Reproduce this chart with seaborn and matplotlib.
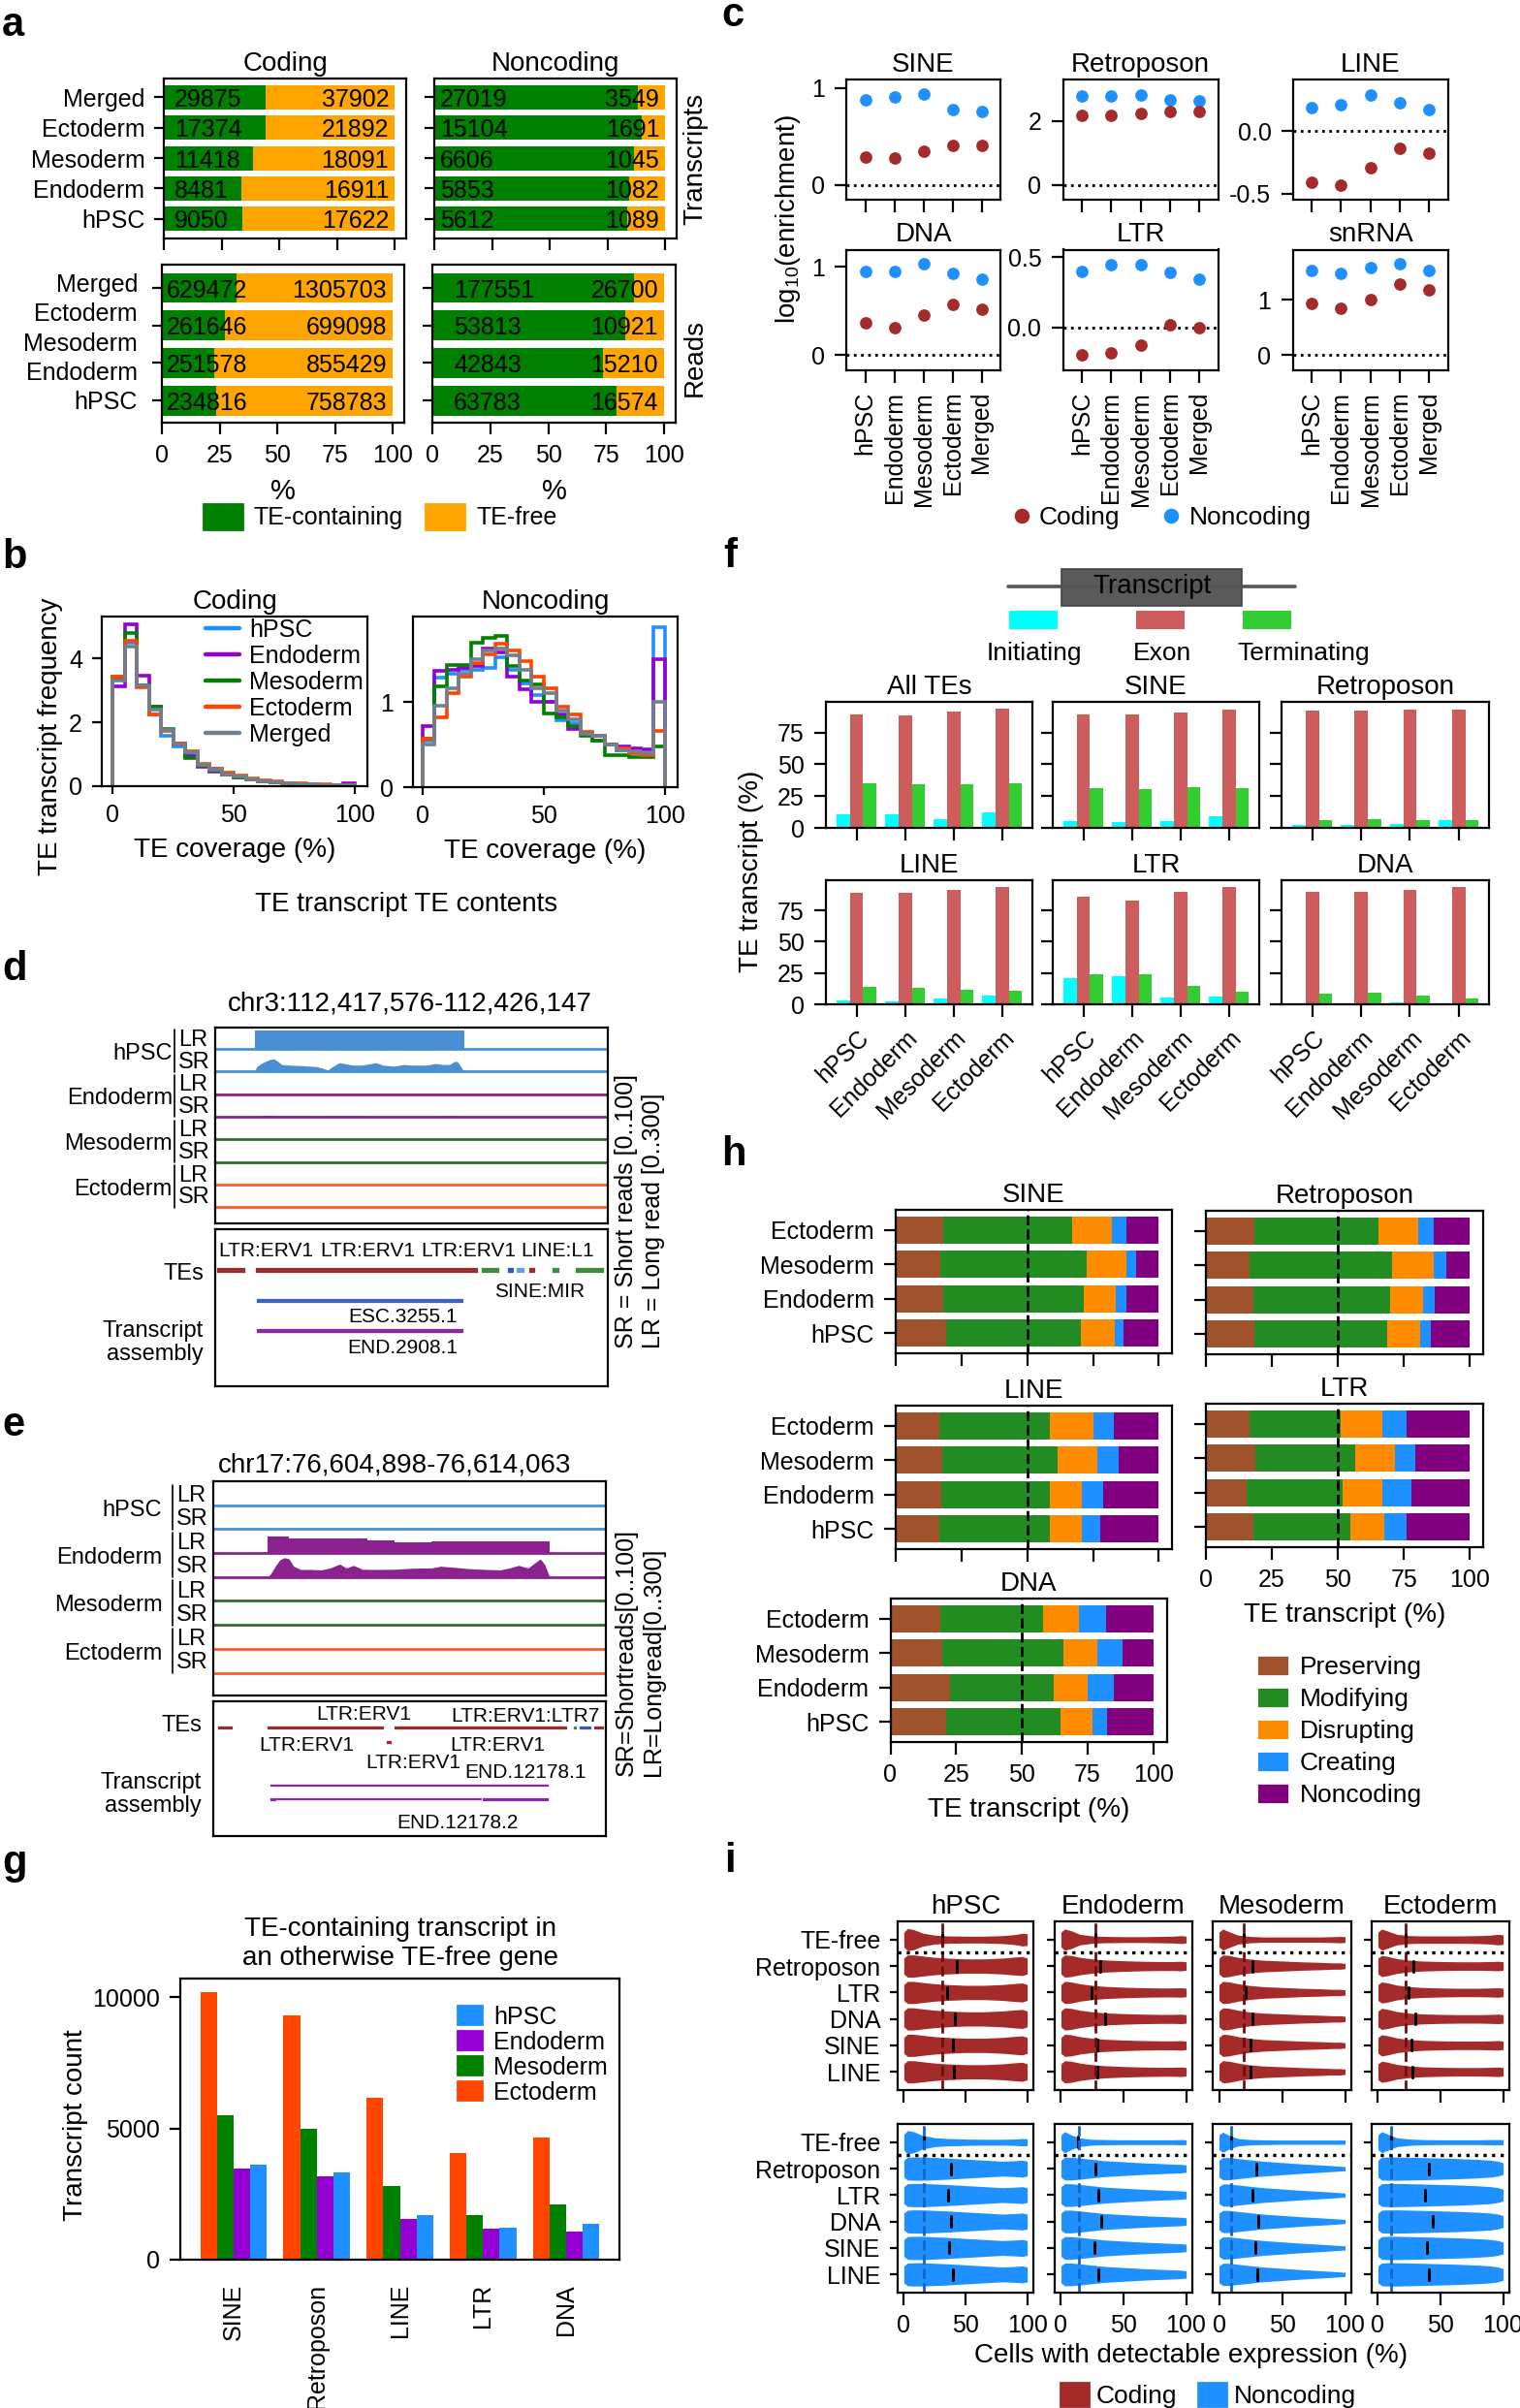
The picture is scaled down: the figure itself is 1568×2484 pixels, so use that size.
import matplotlib
matplotlib.use("Agg")
import matplotlib.pyplot as plt
from matplotlib import font_manager
from matplotlib.patches import Patch, Rectangle
from matplotlib.lines import Line2D
from matplotlib.transforms import blended_transform_factory
import numpy as np
import pandas as pd
import seaborn as sns

# ---------------- a: TE-containing vs TE-free counts ----------------
a_stages = ["Merged", "Ectoderm", "Mesoderm", "Endoderm", "hPSC"]
a_read_bars = ["Merged", "Ectoderm", "Mesoderm", "hPSC"]
coding_tx_te = [29875, 17374, 11418, 8481, 9050]
coding_tx_free = [37902, 21892, 18091, 16911, 17622]
noncoding_tx_te = [27019, 15104, 6606, 5853, 5612]
noncoding_tx_free = [3549, 1691, 1045, 1082, 1089]
coding_rd_te = [629472, 261646, 251578, 234816]
coding_rd_free = [1305703, 699098, 855429, 758783]
noncoding_rd_te = [177551, 53813, 42843, 63783]
noncoding_rd_free = [26700, 10921, 15210, 16574]

# ---------------- b: TE coverage histograms (5% bins) ----------------
bin_edges = list(range(0, 101, 5))
b_coding_hpsc = [3.45, 4.5, 3.15, 2.26, 1.57, 1.25, 1.0, 0.64, 0.54, 0.38, 0.3, 0.22, 0.16, 0.12, 0.09, 0.07, 0.05, 0.04, 0.03, 0.04]
b_coding_endo = [3.12, 5.07, 3.47, 2.49, 1.75, 1.3, 0.95, 0.6, 0.45, 0.35, 0.27, 0.2, 0.15, 0.11, 0.08, 0.06, 0.05, 0.04, 0.04, 0.08]
b_coding_meso = [3.35, 4.79, 3.17, 2.49, 1.8, 1.35, 0.89, 0.64, 0.5, 0.36, 0.28, 0.2, 0.15, 0.11, 0.08, 0.06, 0.05, 0.04, 0.03, 0.03]
b_coding_ecto = [3.45, 4.55, 3.1, 2.26, 1.72, 1.35, 1.09, 0.7, 0.55, 0.42, 0.33, 0.25, 0.19, 0.14, 0.1, 0.08, 0.06, 0.05, 0.04, 0.04]
b_coding_merged = [3.3, 4.38, 3.17, 2.4, 1.75, 1.32, 1.05, 0.66, 0.52, 0.38, 0.3, 0.22, 0.16, 0.12, 0.09, 0.07, 0.05, 0.04, 0.03, 0.04]
b_nonc_hpsc = [0.55, 1.28, 1.33, 1.38, 1.38, 1.4, 1.52, 1.37, 1.22, 1.08, 1.0, 0.78, 0.75, 0.62, 0.55, 0.5, 0.43, 0.42, 0.4, 1.88]
b_nonc_endo = [0.72, 1.36, 1.38, 1.4, 1.42, 1.63, 1.58, 1.3, 1.15, 1.0, 1.0, 0.85, 0.68, 0.62, 0.6, 0.5, 0.48, 0.45, 0.44, 1.5]
b_nonc_meso = [0.57, 1.18, 1.43, 1.43, 1.69, 1.75, 1.77, 1.42, 1.25, 1.2, 0.86, 0.82, 0.72, 0.6, 0.55, 0.37, 0.37, 0.35, 0.35, 0.48]
b_nonc_ecto = [0.57, 0.82, 1.1, 1.3, 1.45, 1.56, 1.68, 1.6, 1.48, 1.3, 1.16, 0.94, 0.85, 0.65, 0.6, 0.5, 0.45, 0.4, 0.38, 0.66]
b_nonc_merged = [0.5, 0.96, 1.16, 1.33, 1.5, 1.6, 1.62, 1.55, 1.37, 1.16, 1.1, 0.9, 0.8, 0.62, 0.6, 0.5, 0.43, 0.42, 0.4, 1.0]

# ---------------- c: log10 enrichment ----------------
c_stages = ["hPSC", "Endoderm", "Mesoderm", "Ectoderm", "Merged"]
sine_coding = [0.29, 0.28, 0.35, 0.41, 0.41]
sine_noncoding = [0.88, 0.91, 0.94, 0.78, 0.76]
retro_coding = [2.16, 2.16, 2.23, 2.30, 2.30]
retro_noncoding = [2.77, 2.79, 2.82, 2.66, 2.64]
line_coding = [-0.41, -0.43, -0.29, -0.14, -0.18]
line_noncoding = [0.19, 0.21, 0.29, 0.23, 0.17]
dna_coding = [0.36, 0.31, 0.45, 0.57, 0.52]
dna_noncoding = [0.95, 0.95, 1.03, 0.93, 0.86]
ltr_coding = [-0.20, -0.18, -0.13, 0.02, 0.00]
ltr_noncoding = [0.40, 0.45, 0.45, 0.39, 0.34]
snrna_coding = [0.94, 0.85, 1.00, 1.28, 1.19]
snrna_noncoding = [1.53, 1.48, 1.59, 1.65, 1.54]

# ---------------- d / e: browser tracks (bp offset in window) ----------------
track_names = ["hPSC", "Endoderm", "Mesoderm", "Ectoderm"]
d_len = 8571
d_lr_hpsc_edges = [862, 5434]
d_lr_hpsc_vals = [273]
d_sr_hpsc_pos = [862, 902, 1003, 1103, 1203, 1283, 1363, 1454, 1604, 1905, 2206, 2356, 2456, 2556, 2707, 2857,
                 3008, 3208, 3358, 3509, 3659, 3910, 4110, 4311, 4612, 4812, 4962, 5113, 5233, 5293, 5363, 5434]
d_sr_hpsc_vals = [0, 24, 40, 51, 60, 63, 51, 35, 32, 29, 25, 16, 8, 24, 44, 38,
                  32, 32, 38, 44, 32, 27, 35, 32, 32, 40, 35, 35, 51, 48, 24, 0]
d_sr_endo_pos = [862, 1053, 1203, 1353, 2306, 2707, 3409, 4010, 4812, 5313, 5414]
d_sr_endo_vals = [0, 6, 8, 4, 3, 4, 3, 3, 3, 4, 0]
d_te_start = [0, 842, 5784, 6346, 6547, 6817, 7318, 7840]
d_te_end = [672, 5764, 6216, 6547, 6767, 6997, 7539, 8501]
d_te_class = ["LTR", "LTR", "LINE", "SINE", "SINE2", "LTR", "LINE", "LINE"]
d_tx_start, d_tx_end = 862, 5434

e_len = 9165
e_lr_endo_edges = [1265, 1769, 3591, 4234, 5092, 7858]
e_lr_endo_vals = [230, 197, 177, 153, 163]
e_sr_endo_pos = [1265, 1340, 1447, 1554, 1662, 1769, 1876, 2037, 2305, 2519, 2734, 2948, 3109, 3270, 3484, 3806,
                 4234, 4663, 5092, 5306, 5628, 5950, 6378, 6700, 6914, 7129, 7343, 7504, 7633, 7740, 7826, 7858]
e_sr_endo_vals = [0, 15, 50, 80, 90, 84, 50, 35, 35, 33, 42, 60, 42, 54, 36, 35,
                  36, 41, 42, 50, 45, 39, 35, 33, 42, 54, 42, 65, 84, 57, 12, 0]
e_te_start = [75, 1233, 4181, 8362, 8501, 8844]
e_te_end = [482, 3999, 8287, 8501, 8844, 9144]
e_te_class = ["LTR", "LTR", "LTR", "LINE", "SINE", "LTR"]
e_tx1 = (1286, 7847)
e_tx2_exons = [(1286, 1501), (6250, 7847)]

# ---------------- f: TE position in transcript ----------------
f_stages = ["hPSC", "Endoderm", "Mesoderm", "Ectoderm"]
f_parts = ["Initiating", "Exon", "Terminating"]
f_all = ([10.9, 10.6, 6.9, 12.3], [89.0, 88.5, 91.6, 93.6], [35.2, 34.0, 34.6, 35.2])
f_sine = ([5.2, 4.9, 5.2, 8.9], [89.3, 89.3, 90.8, 93.1], [30.9, 30.1, 31.8, 30.9])
f_retro = ([2.6, 2.6, 3.2, 6.0], [92.5, 91.9, 92.8, 93.1], [6.0, 6.9, 6.0, 6.0])
f_line = ([3.4, 2.3, 4.3, 6.8], [89.2, 89.2, 91.5, 93.2], [13.7, 13.1, 11.4, 10.8])
f_ltr = ([20.8, 22.5, 5.7, 6.0], [85.8, 82.7, 89.8, 93.5], [23.7, 23.7, 14.8, 10.3])
f_dna = ([0.9, 0.3, 1.4, 1.1], [89.8, 89.8, 91.5, 93.5], [8.8, 9.1, 7.1, 4.8])

# ---------------- g: TE-containing transcripts in TE-free genes ----------------
g_families = ["SINE", "Retroposon", "LINE", "LTR", "DNA"]
g_ectoderm = [10210, 9330, 6190, 4060, 4670]
g_mesoderm = [5490, 5000, 2810, 1690, 2110]
g_endoderm = [3470, 3190, 1570, 1190, 1080]
g_hpsc = [3610, 3310, 1690, 1210, 1350]

# ---------------- h: impact classes (rows Ectoderm..hPSC) ----------------
h_stages = ["Ectoderm", "Mesoderm", "Endoderm", "hPSC"]
h_classes = ["Preserving", "Modifying", "Disrupting", "Creating", "Noncoding"]
h_sine = [[17.9, 49.3, 15.1, 5.3, 12.4], [16.9, 55.5, 15.2, 3.9, 8.5],
          [18.1, 53.2, 12.2, 4.3, 12.2], [19.0, 51.5, 12.6, 3.5, 13.4]]
h_retro = [[18.3, 46.9, 15.2, 5.8, 13.8], [16.5, 54.1, 15.8, 4.5, 9.1],
           [18.1, 51.7, 12.5, 4.3, 13.4], [18.5, 50.0, 12.8, 3.9, 14.8]]
h_line = [[16.5, 42.1, 16.4, 7.9, 17.1], [17.7, 43.7, 15.3, 8.0, 15.3],
          [17.3, 41.1, 12.5, 7.9, 21.2], [16.5, 41.9, 12.5, 6.8, 22.3]]
h_ltr = [[16.7, 34.5, 15.5, 9.2, 24.1], [18.7, 37.9, 15.0, 7.8, 20.6],
         [15.4, 36.5, 14.8, 11.1, 22.2], [17.9, 36.8, 12.8, 8.4, 24.1]]
h_dna = [[18.9, 39.3, 13.6, 10.1, 18.1], [19.8, 46.0, 12.8, 9.7, 11.7],
         [22.6, 39.3, 13.0, 9.9, 15.2], [21.0, 43.8, 12.0, 5.7, 17.5]]

# ---------------- i: violin outlines (half widths read at i_grid) ----------------
i_rows = ["TE-free", "Retroposon", "LTR", "DNA", "SINE", "LINE"]
i_grid = [0, 3, 8, 15, 25, 35, 50, 65, 80, 90, 96, 100]
i_cod_free_hpsc = [0.28, 0.42, 0.38, 0.25, 0.17, 0.14, 0.13, 0.13, 0.15, 0.19, 0.24, 0.22]
i_cod_te_hpsc = [0.30, 0.42, 0.42, 0.38, 0.33, 0.30, 0.27, 0.27, 0.30, 0.34, 0.36, 0.30]
i_cod_free_endo = [0.28, 0.40, 0.34, 0.20, 0.14, 0.12, 0.11, 0.11, 0.12, 0.13, 0.15, 0.13]
i_cod_te_endo = [0.30, 0.42, 0.40, 0.33, 0.27, 0.23, 0.20, 0.18, 0.17, 0.17, 0.18, 0.16]
i_cod_free_meso = [0.28, 0.40, 0.30, 0.17, 0.12, 0.10, 0.10, 0.10, 0.10, 0.11, 0.12, 0.11]
i_cod_te_meso = [0.30, 0.42, 0.40, 0.33, 0.26, 0.22, 0.19, 0.16, 0.14, 0.12, 0.12, 0.10]
i_cod_free_ecto = [0.28, 0.40, 0.32, 0.20, 0.15, 0.14, 0.14, 0.14, 0.15, 0.17, 0.20, 0.18]
i_cod_te_ecto = [0.30, 0.40, 0.36, 0.28, 0.22, 0.19, 0.17, 0.16, 0.16, 0.17, 0.18, 0.16]
i_nc_free_hpsc = [0.30, 0.44, 0.40, 0.26, 0.17, 0.14, 0.12, 0.11, 0.11, 0.12, 0.14, 0.13]
i_nc_te_hpsc = [0.32, 0.43, 0.44, 0.44, 0.42, 0.40, 0.36, 0.32, 0.28, 0.30, 0.32, 0.28]
i_nc_free_endo = [0.28, 0.40, 0.28, 0.16, 0.11, 0.10, 0.09, 0.09, 0.09, 0.09, 0.10, 0.09]
i_nc_te_endo = [0.32, 0.43, 0.43, 0.40, 0.35, 0.30, 0.26, 0.22, 0.19, 0.17, 0.16, 0.14]
i_nc_free_meso = [0.28, 0.38, 0.26, 0.14, 0.10, 0.09, 0.08, 0.08, 0.08, 0.08, 0.08, 0.08]
i_nc_te_meso = [0.32, 0.42, 0.42, 0.38, 0.33, 0.28, 0.23, 0.18, 0.14, 0.11, 0.09, 0.08]
i_nc_free_ecto = [0.28, 0.40, 0.30, 0.17, 0.12, 0.10, 0.09, 0.09, 0.09, 0.10, 0.10, 0.10]
i_nc_te_ecto = [0.32, 0.43, 0.44, 0.44, 0.43, 0.42, 0.40, 0.38, 0.35, 0.32, 0.28, 0.22]
i_cod_median_hpsc = [31, 42.6, 35, 41.7, 39.7, 40.5]
i_cod_median_endo = [27.6, 31.7, 24.4, 35, 29.3, 29.3]
i_cod_median_meso = [19.5, 26.4, 21.5, 26.8, 25.2, 25.2]
i_cod_median_ecto = [22, 28, 24.4, 30, 26.4, 27.6]
i_nc_median_hpsc = [16.5, 38.4, 36, 38.4, 36.4, 40]
i_nc_median_endo = [13.4, 27.6, 30, 32, 26.8, 30]
i_nc_median_meso = [9.3, 29.3, 26.4, 30.9, 28.5, 30.1]
i_nc_median_ecto = [10.2, 40.7, 37.8, 43.5, 39, 40.7]
i_cod_threshold = [31, 27.6, 19.5, 22]
i_nc_threshold = [16.5, 14.2, 9.3, 10.2]

# ---------------- style ----------------
W, H, DPI = 1568, 2484, 200
sns.set_theme(style="ticks")
installed = {f.name for f in font_manager.fontManager.ttflist}
FONT = "Liberation Sans" if "Liberation Sans" in installed else "DejaVu Sans"
plt.rcParams.update({
    "font.family": [FONT, "DejaVu Sans"],
    "font.size": 9,
    "text.color": "black", "axes.labelcolor": "black",
    "axes.edgecolor": "black", "axes.linewidth": 0.8,
    "xtick.color": "black", "ytick.color": "black",
    "xtick.major.size": 4.3, "ytick.major.size": 4,
    "xtick.major.width": 0.8, "ytick.major.width": 0.8,
    "xtick.labelsize": 9, "ytick.labelsize": 9,
    "axes.titlesize": 10, "axes.titlepad": 3,
    "legend.fontsize": 9,
    "mathtext.fontset": "custom", "mathtext.rm": FONT, "mathtext.default": "regular",
})

fig = plt.figure(figsize=(W / DPI, H / DPI), dpi=DPI)


def px_axes(x0, y0, x1, y1):
    return fig.add_axes([x0 / W, 1 - y1 / H, (x1 - x0) / W, (y1 - y0) / H])


def px_text(x, y, s, **kw):
    kw.setdefault("ha", "center")
    kw.setdefault("va", "center")
    return fig.text(x / W, 1 - y / H, s, **kw)


def panel_letter(x, y, s):
    fig.text(x / W, 1 - y / H, s, fontsize=15, fontweight="bold", ha="left", va="baseline")


# ================= a =================
GREEN_A, ORANGE_A = "#008000", "#FFA500"


def share_bars(ax, labels, te, free, num_x, top_pad, bottom_pad):
    te = np.asarray(te, float)
    free = np.asarray(free, float)
    df = pd.DataFrame({"stage": labels, "total": 100.0, "te": te / (te + free) * 100})
    sns.barplot(data=df, x="total", y="stage", orient="h", color=ORANGE_A, saturation=1,
                width=0.8, errorbar=None, linewidth=0, ax=ax)
    sns.barplot(data=df, x="te", y="stage", orient="h", color=GREEN_A, saturation=1,
                width=0.8, errorbar=None, linewidth=0, ax=ax)
    for i in range(len(labels)):
        ax.text(num_x, i, f"{te[i]:.0f}", ha="left", va="center_baseline", fontsize=9)
        ax.text(97.5, i, f"{free[i]:.0f}", ha="right", va="center_baseline", fontsize=9)
    ax.set_xlim(0, 105)
    ax.set_ylim(len(labels) - 1 + bottom_pad, -top_pad)
    ax.set_xticks([0, 25, 50, 75, 100])
    ax.set_xlabel("")
    ax.set_ylabel("")
    ax.tick_params(axis="y", length=3.6)


ax = px_axes(169, 81, 419, 246)
share_bars(ax, a_stages, coding_tx_te, coding_tx_free, 4.5, 0.62, 0.65)
ax.tick_params(labelbottom=False)
ax.set_title("Coding", pad=3)
ax = px_axes(448, 81, 698, 246)
share_bars(ax, a_stages, noncoding_tx_te, noncoding_tx_free, 2.4, 0.62, 0.65)
ax.tick_params(labelbottom=False, labelleft=False)
ax.set_title("Noncoding", pad=3)
ax = px_axes(167, 273, 417, 436)
share_bars(ax, a_read_bars, coding_rd_te, coding_rd_free, 1.8, 0.62, 0.59)
ax.set_xlabel("%", fontsize=10.5)
ax.tick_params(labelleft=False)
# the read panel carries five stage names spread over its four bars
tr_a = blended_transform_factory(ax.transAxes, ax.transData)
for lab, yy in zip(a_stages, np.linspace(-0.08, 3.05, len(a_stages))):
    ax.text(-0.1, yy, lab, transform=tr_a, ha="right", va="center", fontsize=9)
ax = px_axes(446, 273, 697, 436)
share_bars(ax, a_read_bars, noncoding_rd_te, noncoding_rd_free, 9.3, 0.62, 0.59)
ax.tick_params(labelleft=False)
ax.set_xlabel("%", fontsize=10.5)
px_text(717, 164, "Transcripts", rotation=90, fontsize=10)
px_text(717, 369, "Reads", rotation=90, fontsize=10)
fig.legend([Patch(color=GREEN_A), Patch(color=ORANGE_A)], ["TE-containing", "TE-free"],
           ncol=2, loc="center", bbox_to_anchor=(392 / W, 1 - 533 / H), frameon=False,
           handlelength=1.6, handleheight=1.2, handletextpad=0.5, columnspacing=0.9, fontsize=9)
panel_letter(2, 37, "a")

# ================= b =================
b_colors = {"hPSC": "#1E90FF", "Endoderm": "#9400D3", "Mesoderm": "#008000",
            "Ectoderm": "#FF4500", "Merged": "#708090"}


def coverage_hist(ax, series, ymax, yticks, xmin):
    for name, vals in series:
        ax.stairs(vals, bin_edges, baseline=0, color=b_colors[name], lw=1.3)
    ax.set_xlim(xmin, 105)
    ax.set_ylim(0, ymax)
    ax.set_xticks([0, 50, 100])
    ax.set_yticks(yticks)
    ax.tick_params(axis="x", length=3)
    ax.tick_params(axis="y", length=3.7)
    ax.set_xlabel("TE coverage (%)", fontsize=10)


ax = px_axes(105, 636, 379, 811)
coverage_hist(ax, [("hPSC", b_coding_hpsc), ("Endoderm", b_coding_endo), ("Mesoderm", b_coding_meso),
                   ("Ectoderm", b_coding_ecto), ("Merged", b_coding_merged)], 5.32, [0, 2, 4], -4.4)
ax.set_title("Coding", pad=3)
ax.legend([Line2D([], [], color=c, lw=1.6) for c in b_colors.values()], list(b_colors.keys()),
          loc="upper left", bbox_to_anchor=(0.39, 0.99), frameon=False, handlelength=1.4,
          handletextpad=0.4, labelspacing=0.12, borderaxespad=0, borderpad=0, fontsize=9)
ax = px_axes(426, 636, 699, 812)
coverage_hist(ax, [("hPSC", b_nonc_hpsc), ("Endoderm", b_nonc_endo), ("Mesoderm", b_nonc_meso),
                   ("Ectoderm", b_nonc_ecto), ("Merged", b_nonc_merged)], 2.0, [0, 1], -3.8)
ax.set_title("Noncoding", pad=3)
px_text(52, 760, "TE transcript frequency", rotation=90, fontsize=10)
px_text(419, 933, "TE transcript TE contents", fontsize=10)
panel_letter(2, 586, "b")

# ================= c =================
C_RED, C_BLUE = "#A52A2A", "#1E90FF"
c_panels = [
    ("SINE", sine_coding, sine_noncoding, (-0.152, 1.09), [0, 1], ["0", "1"], (873, 82, 1032, 206)),
    ("Retroposon", retro_coding, retro_noncoding, (-0.457, 3.29), [0, 2], ["0", "2"], (1096.5, 82, 1256.7, 206)),
    ("LINE", line_coding, line_noncoding, (-0.549, 0.413), [-0.5, 0.0], ["-0.5", "0.0"], (1333.6, 82, 1493.7, 206)),
    ("DNA", dna_coding, dna_noncoding, (-0.17, 1.194), [0, 1], ["0", "1"], (873, 257.5, 1032, 381.6)),
    ("LTR", ltr_coding, ltr_noncoding, (-0.305, 0.554), [0.0, 0.5], ["0.0", "0.5"], (1096.5, 257.5, 1256.7, 381.6)),
    ("snRNA", snrna_coding, snrna_noncoding, (-0.273, 1.913), [0, 1], ["0", "1"], (1333.6, 257.5, 1493.7, 381.6)),
]
for k, (name, cod, nonc, ylim, yt, ytl, box) in enumerate(c_panels):
    ax = px_axes(*box)
    ax.axhline(0, color="black", ls=":", lw=1, zorder=0)
    sns.stripplot(x=c_stages, y=nonc, color=C_BLUE, jitter=False, size=4.6, linewidth=0, ax=ax)
    sns.stripplot(x=c_stages, y=cod, color=C_RED, jitter=False, size=4.6, linewidth=0, ax=ax)
    ax.set_xlim(-0.65, 4.65)
    ax.set_ylim(*ylim)
    ax.set_yticks(yt)
    ax.set_yticklabels(ytl)
    ax.set_title(name, pad=3)
    ax.tick_params(length=4.5)
    if k < 3:
        ax.tick_params(labelbottom=False)
    else:
        ax.tick_params(axis="x", labelrotation=90)
px_text(813, 226, r"log$_{10}$(enrichment)", rotation=90, fontsize=10)
fig.legend([Line2D([], [], marker="o", ls="", color=C_RED, ms=4.6),
            Line2D([], [], marker="o", ls="", color=C_BLUE, ms=4.6)], ["Coding", "Noncoding"],
           ncol=2, loc="center", bbox_to_anchor=(1198 / W, 1 - 534 / H), frameon=False,
           handlelength=0.8, handletextpad=0.3, columnspacing=1.6, fontsize=9.5)
panel_letter(744, 27, "c")

# ================= d / e =================
track_colors = ["#4A8FD6", "#8B2290", "#2F6B2F", "#FF5A2A"]
te_colors = {"LTR": "#9E2A2B", "LINE": "#3C8D3C", "SINE": "#3A53C5", "SINE2": "#5BA4E6"}


def browser_tracks(box, length, first_base, bottom, lr, sr, group_x, bar_x):
    ax = px_axes(*box)
    ax.set_xlim(0, length)
    ax.set_ylim(bottom, 0)
    ax.set_xticks([])
    ax.set_yticks([])
    for k, col in enumerate(track_colors):
        for j in range(2):
            ax.axhline(first_base + 2 * k + j, color=col, lw=1.0)
    for k, (edges, vals) in lr.items():
        base = first_base + 2 * k
        ax.stairs(base - np.asarray(vals) / 300 * 0.9, edges, baseline=base, fill=True,
                  color=track_colors[k], lw=0)
    for k, (pos, vals) in sr.items():
        base = first_base + 2 * k + 1
        ax.fill_between(pos, base, base - np.asarray(vals) / 100 * 0.9, color=track_colors[k], lw=0)
    tr = blended_transform_factory(ax.transAxes, ax.transData)
    for k, name in enumerate(track_names):
        lr_base = first_base + 2 * k
        sr_base = lr_base + 1
        ax.text(group_x, lr_base + 0.2, name, transform=tr, ha="right", va="center", fontsize=8.5)
        ax.text(bar_x + 0.01, lr_base - 0.4, "LR", transform=tr, ha="left", va="center", fontsize=8.5)
        ax.text(bar_x + 0.01, sr_base - 0.42, "SR", transform=tr, ha="left", va="center", fontsize=8.5)
        ax.plot([bar_x, bar_x], [lr_base - 0.85, sr_base + 0.02], transform=tr, clip_on=False,
                color="black", lw=0.6)
    return ax


def te_track(ax, starts, ends, classes, y, h):
    for s, e, c in zip(starts, ends, classes):
        ax.broken_barh([(s, e - s)], (y - h / 2, h), facecolors=te_colors[c])


# d
browser_tracks((222, 1060, 627, 1262), d_len, 0.95, 8.67,
               {0: (d_lr_hpsc_edges, d_lr_hpsc_vals)},
               {0: (d_sr_hpsc_pos, d_sr_hpsc_vals), 1: (d_sr_endo_pos, d_sr_endo_vals)},
               -0.109, -0.104)
ax = px_axes(222, 1268, 627, 1430)
ax.set_xlim(0, d_len)
ax.set_ylim(162, 0)
ax.set_xticks([])
ax.set_yticks([])
te_track(ax, d_te_start, d_te_end, d_te_class, 42, 8)
for lab, x0 in [("LTR:ERV1", 63), ("LTR:ERV1", 2285), ("LTR:ERV1", 4486), ("LINE:L1", 6666)]:
    ax.text(x0, 22, lab, ha="left", va="center", fontsize=7.5)
ax.text(6094, 64, "SINE:MIR", ha="left", va="center", fontsize=7.5)
ax.broken_barh([(d_tx_start, d_tx_end - d_tx_start)], (69.5, 7.5), facecolors="#3B63C6")
ax.text(5290, 90, "ESC.3255.1", ha="right", va="center", fontsize=7.5)
ax.broken_barh([(d_tx_start, d_tx_end - d_tx_start)], (100.5, 7.5), facecolors="#8E24AA")
ax.text(5290, 122, "END.2908.1", ha="right", va="center", fontsize=7.5)
px_text(422.6, 1035, "chr3:112,417,576-112,426,147", fontsize=10)
px_text(210, 1314, "TEs", ha="right", fontsize=8.5)
px_text(210, 1385, "Transcript\nassembly", ha="right", fontsize=8.5, linespacing=1.1)
px_text(646, 1391, "SR = Short reads [0..100]", rotation=90, va="bottom", fontsize=9)
px_text(674, 1391, "LR = Long read [0..300]", rotation=90, va="bottom", fontsize=9)
panel_letter(2, 1011, "d")

# e
browser_tracks((220, 1528, 625, 1749), e_len, 1.0, 8.95,
               {1: (e_lr_endo_edges, e_lr_endo_vals)},
               {1: (e_sr_endo_pos, e_sr_endo_vals)},
               -0.13, -0.104)
ax = px_axes(220, 1755, 625, 1894)
ax.set_xlim(0, e_len)
ax.set_ylim(139, 0)
ax.set_xticks([])
ax.set_yticks([])
te_track(ax, e_te_start, e_te_end, e_te_class, 27, 6)
ax.broken_barh([(3999, 182)], (39, 6), facecolors=te_colors["LTR"])
for lab, x0, y0 in [("LTR:ERV1", 2399, 14), ("LTR:ERV1:LTR7", 5544, 15), ("LTR:ERV1", 1064, 45),
                    ("LTR:ERV1", 5522, 45), ("LTR:ERV1", 3553, 63), ("END.12178.1", 5861, 73),
                    ("END.12178.2", 4277, 126)]:
    ax.text(x0, y0, lab, ha="left", va="center", fontsize=7.5)
ax.broken_barh([(e_tx1[0], e_tx1[1] - e_tx1[0])], (83.5, 5.5), facecolors="#8E24AA")
ax.plot([e_tx2_exons[0][1], e_tx2_exons[1][0]], [101, 101], color="#8E24AA", lw=0.8)
ax.broken_barh([(s, e - s) for s, e in e_tx2_exons], (98.2, 5.6), facecolors="#8E24AA")
px_text(407, 1511, "chr17:76,604,898-76,614,063", fontsize=10)
px_text(208, 1780, "TEs", ha="right", fontsize=8.5)
px_text(208, 1851, "Transcript\nassembly", ha="right", fontsize=8.5, linespacing=1.1)
px_text(646, 1832, "SR=Shortreads[0..100]", rotation=90, va="bottom", fontsize=9)
px_text(674, 1832, "LR=Longread[0..300]", rotation=90, va="bottom", fontsize=9)
panel_letter(2, 1481, "e")

# ================= f =================
f_colors = {"Initiating": "#00FFFF", "Exon": "#CD5C5C", "Terminating": "#32CD32"}
sch = px_axes(1030, 578, 1360, 690)
sch.set_xlim(1030, 1360)
sch.set_ylim(690, 578)
sch.axis("off")
sch.plot([1040, 1336], [605, 605], color="#555555", lw=1.3)
sch.add_patch(Rectangle((1095, 586.5), 186, 38, facecolor="#5A5A5A", edgecolor="#444444", lw=0.6))
sch.text(1189, 605, "Transcript", ha="center", va="center", fontsize=10)
for x0, key in [(1041, "Initiating"), (1172, "Exon"), (1282, "Terminating")]:
    sch.add_patch(Rectangle((x0, 630), 50, 18.5, facecolor=f_colors[key], lw=0))
px_text(1067, 674, "Initiating", fontsize=9.5)
px_text(1199, 674, "Exon", fontsize=9.5)
px_text(1345, 674, "Terminating", fontsize=9.5)

f_panels = [("All TEs", f_all), ("SINE", f_sine), ("Retroposon", f_retro),
            ("LINE", f_line), ("LTR", f_ltr), ("DNA", f_dna)]
f_cols = [(852, 1065), (1086, 1299), (1322, 1536)]
f_rows = [(724, 854), (908, 1036)]
for k, (name, (ini, exo, ter)) in enumerate(f_panels):
    r, c = divmod(k, 3)
    ax = px_axes(f_cols[c][0], f_rows[r][0], f_cols[c][1], f_rows[r][1])
    df = pd.DataFrame({"stage": f_stages * 3, "part": np.repeat(f_parts, 4),
                       "pct": list(ini) + list(exo) + list(ter)})
    sns.barplot(data=df, x="stage", y="pct", hue="part", hue_order=f_parts, palette=f_colors,
                width=0.82, saturation=1, errorbar=None, linewidth=0, legend=False, ax=ax)
    ax.set_xlim(-0.63, 3.62)
    ax.set_ylim(0, 99)
    ax.set_yticks([0, 25, 50, 75])
    ax.set_xlabel("")
    ax.set_ylabel("")
    ax.set_title(name, pad=3)
    ax.tick_params(length=4.5)
    if c > 0:
        ax.tick_params(labelleft=False)
    if r == 0:
        ax.tick_params(labelbottom=False)
    else:
        ax.set_xticks(range(4))
        ax.set_xticklabels(f_stages, rotation=45, ha="right", rotation_mode="anchor")
px_text(775, 899, "TE transcript (%)", rotation=90, fontsize=10)
panel_letter(746, 585, "f")

# ================= g =================
g_colors = {"Ectoderm": "#FF4500", "Mesoderm": "#008000", "Endoderm": "#9400D3", "hPSC": "#1E90FF"}
g_order = ["Ectoderm", "Mesoderm", "Endoderm", "hPSC"]
ax = px_axes(186, 2041, 639, 2331)
df_g = pd.DataFrame({"family": g_families * 4, "stage": np.repeat(g_order, 5),
                     "count": g_ectoderm + g_mesoderm + g_endoderm + g_hpsc})
sns.barplot(data=df_g, x="family", y="count", hue="stage", hue_order=g_order, palette=g_colors,
            width=0.8, saturation=1, errorbar=None, linewidth=0, legend=False, ax=ax)
ax.set_xlim(-0.64, 4.64)
ax.set_ylim(0, 10720)
ax.set_yticks([0, 5000, 10000])
ax.set_xlabel("")
ax.set_ylabel("")
ax.tick_params(axis="x", length=0, labelrotation=90, pad=9)
ax.set_title("TE-containing transcript in\nan otherwise TE-free gene", fontsize=10, pad=5)
leg_order = ["hPSC", "Endoderm", "Mesoderm", "Ectoderm"]
ax.legend([Patch(color=g_colors[s]) for s in leg_order], leg_order, loc="upper left",
          bbox_to_anchor=(0.631, 0.905), frameon=False, handlelength=1.0, handleheight=0.8,
          handletextpad=0.5, labelspacing=0.08, borderaxespad=0, borderpad=0, fontsize=9)
px_text(78, 2192, "Transcript count", rotation=90, fontsize=10)
panel_letter(2, 1933, "g")

# ================= h =================
h_colors = ["#A0522D", "#228B22", "#FF8C00", "#1E90FF", "#800080"]


def stacked_classes(ax, table):
    t = np.asarray(table, float)
    t = t / t.sum(axis=1, keepdims=True) * 100
    cum = np.cumsum(t, axis=1)
    for j in range(4, -1, -1):
        sns.barplot(x=cum[:, j], y=h_stages, orient="h", color=h_colors[j], saturation=1,
                    width=0.8, errorbar=None, linewidth=0, ax=ax)
    ax.axvline(50, color="black", ls="--", lw=1)
    ax.set_xlim(0, 105)
    ax.set_ylim(3.59, -0.59)
    ax.set_xticks([0, 25, 50, 75, 100])
    ax.tick_params(length=4.5)


h_panels = [("SINE", h_sine, (924, 1248, 1209, 1396), True, False),
            ("Retroposon", h_retro, (1244, 1249, 1530, 1397), False, False),
            ("LINE", h_line, (924, 1450, 1209, 1598), True, False),
            ("LTR", h_ltr, (1244, 1448, 1530, 1596), False, True),
            ("DNA", h_dna, (918.5, 1649, 1203.5, 1797), True, True)]
for name, table, box, lab_left, lab_bottom in h_panels:
    ax = px_axes(*box)
    stacked_classes(ax, table)
    ax.set_title(name, pad=3)
    ax.tick_params(labelleft=lab_left, labelbottom=lab_bottom)
    if lab_bottom:
        ax.set_xlabel("TE transcript (%)", fontsize=10)
fig.legend([Patch(facecolor=c) for c in h_colors], h_classes, loc="upper left",
           bbox_to_anchor=(1296 / W, 1 - 1707 / H), frameon=False, fontsize=9.5,
           handlelength=1.3, handleheight=0.9, labelspacing=0.3, handletextpad=0.4,
           borderpad=0, borderaxespad=0)
panel_letter(744, 1202, "h")

# ================= i =================
i_cols = [(926, 1066), (1088, 1230), (1251, 1394), (1415, 1557)]
i_titles = ["hPSC", "Endoderm", "Mesoderm", "Ectoderm"]
i_sets = [
    ("#A52A2A", "#6E0E0E", (1982, 2156),
     [(i_cod_free_hpsc, i_cod_te_hpsc), (i_cod_free_endo, i_cod_te_endo),
      (i_cod_free_meso, i_cod_te_meso), (i_cod_free_ecto, i_cod_te_ecto)],
     [i_cod_median_hpsc, i_cod_median_endo, i_cod_median_meso, i_cod_median_ecto], i_cod_threshold),
    ("#1E90FF", "#1565C0", (2191, 2365),
     [(i_nc_free_hpsc, i_nc_te_hpsc), (i_nc_free_endo, i_nc_te_endo),
      (i_nc_free_meso, i_nc_te_meso), (i_nc_free_ecto, i_nc_te_ecto)],
     [i_nc_median_hpsc, i_nc_median_endo, i_nc_median_meso, i_nc_median_ecto], i_nc_threshold),
]
for r, (fill_c, thr_c, (y0, y1), shapes, medians, thresholds) in enumerate(i_sets):
    for c in range(4):
        ax = px_axes(i_cols[c][0], y0, i_cols[c][1], y1)
        free, te = shapes[c]
        for k in range(len(i_rows)):
            w = np.asarray(free if k == 0 else te)
            ax.fill_between(i_grid, k - w, k + w, color=fill_c, lw=0)
            m = medians[c][k]
            ax.plot([m, m], [k - 0.2, k + 0.2], color="black", lw=1.1)
        ax.axvline(thresholds[c], color=thr_c, ls="--", lw=1)
        ax.axhline(0.5, color="black", ls=":", lw=1.2)
        ax.set_xlim(-5, 105)
        ax.set_ylim(5.69, -0.69)
        ax.set_xticks([0, 50, 100])
        ax.set_yticks(range(len(i_rows)))
        ax.set_yticklabels(i_rows)
        ax.tick_params(axis="x", length=4.5)
        ax.tick_params(axis="y", length=2.8)
        if c > 0:
            ax.tick_params(labelleft=False)
        if r == 0:
            ax.tick_params(labelbottom=False)
            ax.set_title(i_titles[c], pad=3)
px_text(1229, 2430, "Cells with detectable expression (%)", fontsize=10)
fig.legend([Patch(color="#A52A2A"), Patch(color="#1E90FF")], ["Coding", "Noncoding"], ncol=2,
           loc="upper left", bbox_to_anchor=(1094 / W, 1 - 2458 / H), frameon=False, fontsize=9.5,
           handlelength=1.1, handleheight=1.0, handletextpad=0.3, columnspacing=0.8,
           borderpad=0, borderaxespad=0)
panel_letter(747, 1931, "i")

fig.savefig("out.png", dpi=DPI)
